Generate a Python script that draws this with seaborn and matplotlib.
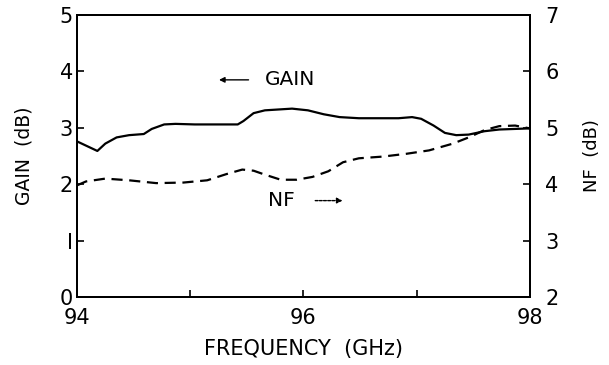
import numpy as np
import pandas as pd
import matplotlib
matplotlib.use("Agg")
import matplotlib.pyplot as plt
import seaborn as sns

# Data
gain_freq = [94.0, 94.18, 94.25, 94.35, 94.46, 94.59, 94.66, 94.77, 94.87, 95.04, 95.42, 95.47,
             95.56, 95.66, 95.9, 96.04, 96.18, 96.32, 96.49, 96.84, 96.96, 97.04, 97.15, 97.25,
             97.35, 97.46, 97.6, 97.73, 98.0]
gain_db = [2.76, 2.59, 2.72, 2.83, 2.87, 2.89, 2.98, 3.06, 3.07, 3.06, 3.06, 3.12,
           3.26, 3.31, 3.34, 3.31, 3.24, 3.19, 3.17, 3.17, 3.19, 3.16, 3.04, 2.91,
           2.87, 2.88, 2.94, 2.97, 2.99]

nf_freq = [94.0, 94.08, 94.25, 94.46, 94.7, 94.94, 95.15, 95.32, 95.46, 95.56, 95.66, 95.8,
           95.94, 96.08, 96.22, 96.35, 96.49, 96.7, 96.91, 97.11, 97.32, 97.46, 97.6, 97.73,
           97.87, 98.0]
nf_db = [3.98, 4.05, 4.10, 4.07, 4.02, 4.03, 4.07, 4.18, 4.26, 4.24, 4.17, 4.08,
         4.08, 4.13, 4.23, 4.39, 4.46, 4.49, 4.54, 4.60, 4.72, 4.83, 4.96, 5.03,
         5.04, 4.99]

x_ticks = [94, 95, 96, 97, 98]
x_ticklabels = ["94", "", "96", "", "98"]
gain_ticks = [0, 1, 2, 3, 4, 5]
gain_ticklabels = ["0", "I", "2", "3", "4", "5"]
nf_ticks = [2, 3, 4, 5, 6, 7]
nf_ticklabels = ["2", "3", "4", "5", "6", "7"]

sns.set_style("ticks")
plt.rcParams["font.family"] = ["DejaVu Sans"]
plt.rcParams["text.color"] = "black"
plt.rcParams["axes.labelcolor"] = "black"
plt.rcParams["xtick.color"] = "black"
plt.rcParams["ytick.color"] = "black"

fig = plt.figure(figsize=(6.09, 3.65), dpi=100)
ax = fig.add_axes([0.1264, 0.186, 0.7436, 0.773])

gdf = pd.DataFrame({"freq": gain_freq, "gain": gain_db})
ndf = pd.DataFrame({"freq": nf_freq, "nf": nf_db})

sns.lineplot(data=gdf, x="freq", y="gain", ax=ax, color="black", linewidth=1.6)
ax2 = ax.twinx()
sns.lineplot(data=ndf, x="freq", y="nf", ax=ax2, color="black", linewidth=1.6,
             linestyle=(0, (5, 3)))

ax.set_xlim(94, 98)
ax.set_ylim(0, 5)
ax2.set_ylim(2, 7)

ax.set_xticks(x_ticks)
ax.set_xticklabels(x_ticklabels)
ax.set_yticks(gain_ticks)
ax.set_yticklabels(gain_ticklabels)
ax2.set_yticks(nf_ticks)
ax2.set_yticklabels(nf_ticklabels)

for a in (ax, ax2):
    for s in a.spines.values():
        s.set_visible(True)
        s.set_linewidth(1.4)
        s.set_color("black")

ax.tick_params(axis="both", direction="in", length=5, width=1.2, labelsize=15, pad=3)
ax.tick_params(axis="x", pad=8)
ax2.tick_params(axis="y", direction="in", length=5, width=1.2, labelsize=15, pad=11)

ax.set_xlabel("FREQUENCY  (GHz)", fontsize=15, labelpad=8)
ax.set_ylabel("GAIN  (dB)", fontsize=13.5, labelpad=19)
ax2.set_ylabel("NF  (dB)", fontsize=13, labelpad=18)

# Annotations
ax.annotate("", xy=(95.23, 3.85), xytext=(95.54, 3.85),
            arrowprops=dict(arrowstyle="-|>", color="black", lw=1.0, mutation_scale=8))
ax.text(95.66, 3.85, "GAIN", fontsize=14.5, va="center", ha="left")
ax.text(95.69, 1.71, "NF", fontsize=14.5, va="center", ha="left")
ax.annotate("", xy=(96.37, 1.71), xytext=(96.08, 1.71),
            arrowprops=dict(arrowstyle="-|>", color="black", lw=1.0, linestyle=(0, (2, 1)),
                            mutation_scale=8))

fig.savefig("out.png", dpi=100)
